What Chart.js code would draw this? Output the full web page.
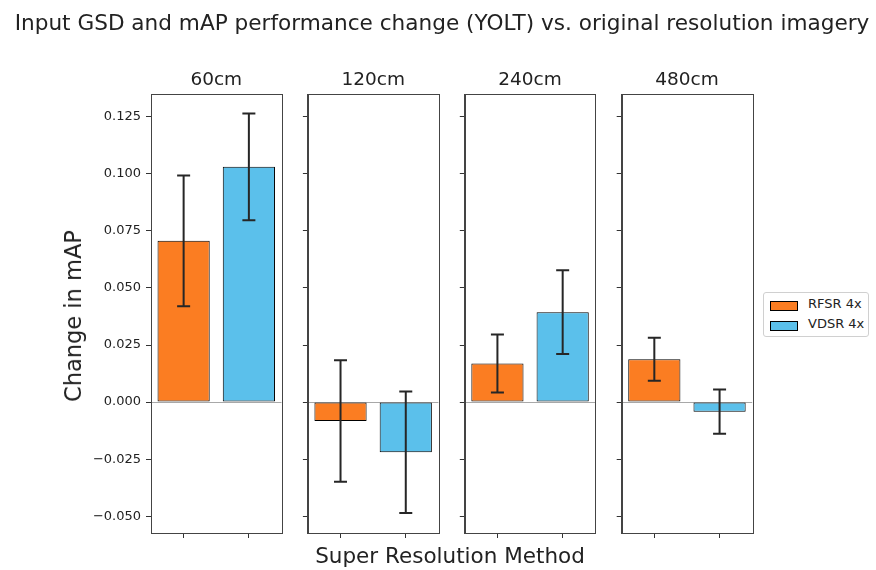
<!DOCTYPE html>
<html>
<head>
<meta charset="utf-8">
<title>Input GSD and mAP performance change</title>
<script src="https://cdn.jsdelivr.net/npm/chart.js@4"></script>
<style>
  html, body { margin: 0; padding: 0; background: #fff; }
  #wrap { position: relative; width: 876px; height: 570px; font-family: "DejaVu Sans", sans-serif; color: #222; }
  #wrap canvas { position: absolute; left: 0; top: 0; }
  .txt { position: absolute; white-space: nowrap; transform: translate(-50%, -50%); }
  #title { left: 442px; top: 22px; font-size: 21.6px; }
  #xlabel { left: 450px; top: 555px; font-size: 21.5px; }
  #ylabel { left: 73px; top: 316px; font-size: 22.5px; transform: translate(-50%, -50%) rotate(-90deg); }
  #legend { position: absolute; left: 763px; top: 292px; width: 104px; height: 43px; border: 1px solid #d0d0d0; border-radius: 3px; background: #fff; font-size: 13px; }
  .item { position: absolute; left: 6px; width: 96px; height: 14px; line-height: 14px; white-space: nowrap; }
  .patch { position: absolute; left: 0; top: 3px; width: 26px; height: 8px; border: 1px solid #000; }
  .item span.lbl { position: absolute; left: 38px; top: -1px; }
</style>
</head>
<body>
<div id="wrap">
  <canvas id="panel0" width="876" height="570"></canvas>
  <canvas id="panel1" width="876" height="570"></canvas>
  <canvas id="panel2" width="876" height="570"></canvas>
  <canvas id="panel3" width="876" height="570"></canvas>
  <div class="txt" id="title">Input GSD and mAP performance change (YOLT) vs. original resolution imagery</div>
  <div class="txt" id="xlabel">Super Resolution Method</div>
  <div class="txt" id="ylabel">Change in mAP</div>
  <div id="legend"></div>
</div>
<script>
// input ground sample distances, one panel each
const panels = ['60cm', '120cm', '240cm', '480cm'];
const methods = ['RFSR 4x', 'VDSR 4x'];

// change in mAP and its error, per panel
const rfsrChange = [0.0706, -0.0083, 0.0169, 0.0188];
const rfsrErr = [0.0286, 0.0266, 0.0127, 0.0094];
const vdsrChange = [0.1030, -0.0219, 0.0394, -0.0042];
const vdsrErr = [0.0234, 0.0266, 0.0183, 0.0097];

const yTicks = [-0.05, -0.025, 0, 0.025, 0.05, 0.075, 0.1, 0.125];
const yMin = -0.0573;
const yMax = 0.1349;

const colors = ['#fb7d22', '#5bc0eb'];

// panel geometry on the canvas
const PANEL_LEFT = 151;
const PANEL_STEP = 156.9;
const PANEL_WIDTH = 130.5;
const PANEL_TOP = 94;
const PANEL_BOTTOM = 533;
const Y_AXIS_W = 70;
const X_AXIS_H = 10;
const TITLE_H = 23;

const fmtTick = v => (v < 0 ? '\u2212' : '') + Math.abs(v).toFixed(3);

// box around each subplot
const frame = {
  id: 'frame',
  afterDraw(chart) {
    const { ctx, chartArea: a } = chart;
    ctx.save();
    ctx.strokeStyle = '#444';
    ctx.lineWidth = 1;
    ctx.strokeRect(Math.round(a.left) + 0.5, Math.round(a.top) + 0.5,
      Math.round(a.right - a.left), Math.round(a.bottom - a.top));
    ctx.restore();
  }
};

// vertical error bars with caps
const errorBars = {
  id: 'errorBars',
  afterDatasetsDraw(chart) {
    const { ctx } = chart;
    const y = chart.scales.y;
    ctx.save();
    ctx.strokeStyle = '#262626';
    ctx.lineWidth = 2;
    chart.data.datasets.forEach((ds, di) => {
      chart.getDatasetMeta(di).data.forEach((bar, j) => {
        const v = ds.data[j];
        const e = ds.errors[j];
        const top = y.getPixelForValue(v + e);
        const bot = y.getPixelForValue(v - e);
        ctx.beginPath();
        ctx.moveTo(bar.x, top);
        ctx.lineTo(bar.x, bot);
        ctx.moveTo(bar.x - 6.5, top);
        ctx.lineTo(bar.x + 6.5, top);
        ctx.moveTo(bar.x - 6.5, bot);
        ctx.lineTo(bar.x + 6.5, bot);
        ctx.stroke();
      });
    });
    ctx.restore();
  }
};

function buildPanel(i) {
  const left = PANEL_LEFT + i * PANEL_STEP;
  const right = left + PANEL_WIDTH;
  return new Chart(document.getElementById('panel' + i), {
    type: 'bar',
    data: {
      labels: methods,
      datasets: [{
        data: [rfsrChange[i], vdsrChange[i]],
        errors: [rfsrErr[i], vdsrErr[i]],
        backgroundColor: colors,
        borderColor: '#000',
        borderWidth: 1,
        borderSkipped: false,
        barPercentage: 0.8,
        categoryPercentage: 1
      }]
    },
    options: {
      responsive: false,
      animation: false,
      events: [],
      layout: {
        padding: {
          left: left - Y_AXIS_W,
          right: 876 - right,
          top: PANEL_TOP - TITLE_H,
          bottom: 570 - PANEL_BOTTOM - X_AXIS_H
        }
      },
      plugins: {
        legend: { display: false },
        tooltip: { enabled: false },
        title: {
          display: true,
          text: panels[i],
          fullSize: false,
          color: '#222',
          font: { family: 'DejaVu Sans', size: 18.5, weight: 'normal', lineHeight: 1 },
          padding: { top: 0, bottom: TITLE_H - 18.5 }
        }
      },
      scales: {
        x: {
          offset: true,
          grid: { drawOnChartArea: false, offset: false, tickLength: 5, tickColor: '#333' },
          border: { color: '#444' },
          ticks: { display: false },
          afterFit: s => { s.height = X_AXIS_H; }
        },
        y: {
          min: yMin,
          max: yMax,
          afterBuildTicks: s => { s.ticks = yTicks.map(v => ({ value: v })); },
          afterFit: s => { s.width = Y_AXIS_W; },
          grid: {
            tickLength: 5,
            tickColor: '#333',
            color: c => (c.tick && c.tick.value === 0 ? '#a8a8a8' : 'rgba(0,0,0,0)')
          },
          border: { color: '#444' },
          ticks: {
            display: i === 0,
            padding: 5,
            color: '#222',
            font: { family: 'DejaVu Sans', size: 13 },
            callback: v => fmtTick(v)
          }
        }
      }
    },
    plugins: [frame, errorBars]
  });
}

panels.forEach((p, i) => buildPanel(i));

// legend entries
const legend = document.getElementById('legend');
methods.forEach((m, k) => {
  const item = document.createElement('div');
  item.className = 'item';
  item.style.top = (5 + k * 20) + 'px';
  item.innerHTML = '<span class="patch" style="background:' + colors[k] + '"></span><span class="lbl">' + m + '</span>';
  legend.appendChild(item);
});
</script>
</body>
</html>
